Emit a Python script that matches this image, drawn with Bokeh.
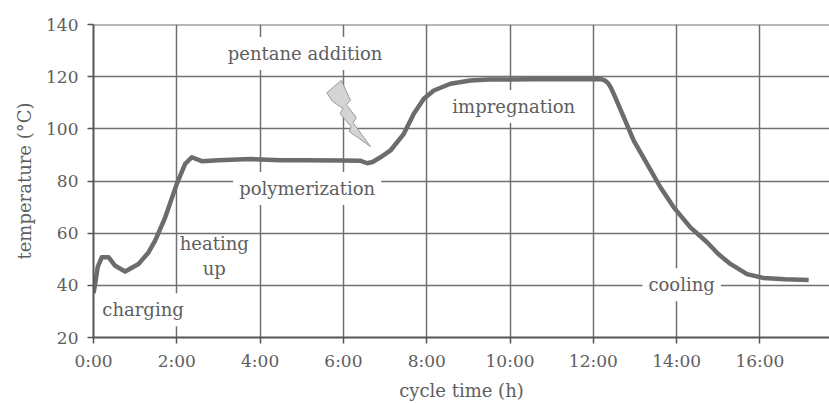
from bokeh.plotting import figure
from bokeh.models import Label, Span, FixedTicker, Range1d
from bokeh.embed import file_html
from bokeh.resources import INLINE

# ---- data ----
hours = [0.0, 0.04, 0.1, 0.2, 0.36, 0.52, 0.76, 1.08, 1.32, 1.48, 1.72, 2.0, 2.2, 2.36,
         2.6, 3.0, 3.77, 4.5, 5.0, 6.0, 6.4, 6.57, 6.7, 6.89, 7.13, 7.45, 7.69, 7.93,
         8.17, 8.57, 9.05, 9.5, 10.5, 11.5, 12.2, 12.27, 12.35, 12.42, 12.49, 12.73,
         12.97, 13.29, 13.61, 13.93, 14.33, 14.73, 15.0, 15.29, 15.69, 16.09, 16.6, 17.17]
temperature = [37.0, 40.5, 47.0, 50.8, 50.8, 47.5, 45.3, 48.2, 52.6, 57.1, 66.0, 78.9, 86.6, 89.1,
               87.6, 88.0, 88.4, 88.0, 88.0, 87.9, 87.8, 86.8, 87.3, 89.1, 91.7, 98.1, 105.8, 111.5,
               114.7, 117.3, 118.5, 118.9, 119.0, 119.0, 119.0, 118.6, 117.6, 115.8, 113.4, 104.5,
               95.5, 86.6, 77.6, 69.9, 62.2, 56.5, 52.0, 48.2, 44.3, 42.8, 42.3, 42.0]

x_ticks = [0, 2, 4, 6, 8, 10, 12, 14, 16]
x_tick_labels = ["0:00", "2:00", "4:00", "6:00", "8:00", "10:00", "12:00", "14:00", "16:00"]
y_ticks = [20, 40, 60, 80, 100, 120, 140]

# annotations: (text, hour, temperature)
phase_labels = ["pentane addition", "polymerization", "impregnation", "cooling",
                "heating", "up", "charging"]
phase_x = [5.08, 5.13, 10.09, 14.12, 2.9, 2.9, 1.19]
phase_y = [128.9, 77.1, 108.6, 40.2, 56.0, 46.3, 30.6]
phase_bg = [True, True, True, True, False, False, True]

# lightning bolt outline (hours, temperature)
bolt_x = [5.60, 5.95, 6.17, 6.07, 6.31, 6.23, 6.65, 6.14, 6.18, 5.92, 5.99, 5.74]
bolt_y = [113.8, 118.6, 110.9, 109.3, 104.3, 102.4, 93.2, 99.0, 100.9, 105.9, 107.8, 110.5]

FONT = "DejaVu Serif"
TXT = "#5e5e5e"
GRID = "#707070"

p = figure(width=829, height=403, x_range=Range1d(0, 17.67), y_range=Range1d(20, 140),
           output_backend="svg", toolbar_location=None,
           min_border_left=93, min_border_top=24, min_border_bottom=66, min_border_right=0)
p.outline_line_color = None
p.background_fill_color = "white"

p.xaxis.ticker = FixedTicker(ticks=x_ticks)
p.xaxis.major_label_overrides = {t: l for t, l in zip(x_ticks, x_tick_labels)}
p.yaxis.ticker = FixedTicker(ticks=y_ticks)
p.xgrid.ticker = FixedTicker(ticks=x_ticks)
p.ygrid.ticker = FixedTicker(ticks=y_ticks)

for g in (p.xgrid, p.ygrid):
    g.grid_line_color = GRID
    g.grid_line_width = 1.5
    g.grid_line_alpha = 1.0

for ax in (p.xaxis, p.yaxis):
    ax.axis_line_color = "#555555"
    ax.axis_line_width = 2
    ax.major_tick_line_color = "#555555"
    ax.major_tick_line_width = 1.5
    ax.major_tick_in = 0
    ax.major_tick_out = 6
    ax.minor_tick_line_color = None
    ax.major_label_text_font = FONT
    ax.major_label_text_font_size = "17px"
    ax.major_label_text_color = TXT
    ax.axis_label_text_font = FONT
    ax.axis_label_text_font_size = "18px"
    ax.axis_label_text_font_style = "normal"
    ax.axis_label_text_color = TXT

p.xaxis.axis_label = "cycle time (h)"
p.yaxis.axis_label = "temperature (°C)"
p.xaxis.major_label_standoff = 7
p.yaxis.major_label_standoff = 9
p.xaxis.axis_label_standoff = 6
p.yaxis.axis_label_standoff = 8

p.add_layout(Span(location=140, dimension="width", line_color=GRID, line_width=2))

p.line(hours, temperature, line_color="#6c6c6c", line_width=4.5, line_join="round")

p.patch(bolt_x, bolt_y, fill_color="#d4d4d4", line_color="#9a9a9a", line_width=1)

for t, x, y, bg in zip(phase_labels, phase_x, phase_y, phase_bg):
    kw = dict(background_fill_color="white", padding=6) if bg else {}
    p.add_layout(Label(x=x, y=y, text=t, text_align="center", text_baseline="middle",
                       text_font=FONT, text_font_size="18px", text_color=TXT, **kw))

open("out.html", "w").write(file_html(p, INLINE))
